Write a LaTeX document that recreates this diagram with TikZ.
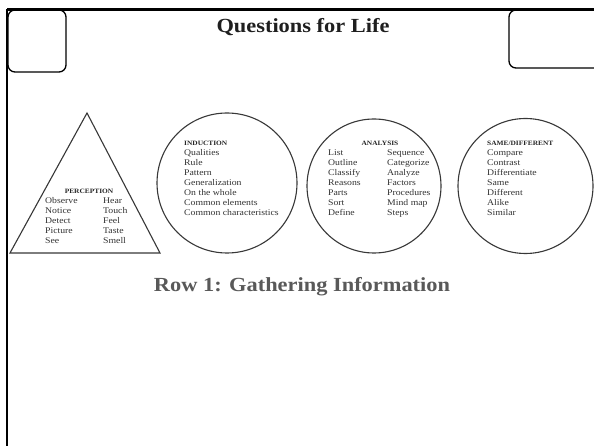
\documentclass[tikz,border=0pt]{standalone}
\usepackage{fontspec}
\setmainfont{Liberation Serif}
\newfontfamily\wideserif[FakeStretch=1.12]{Liberation Serif}
\begin{document}
\begin{tikzpicture}[x=1pt,y=-1pt,
  frameline/.style={line width=2.2pt,black},
  tabbox/.style={draw=black,line width=1.3pt,rounded corners=7pt},
  shapeline/.style={draw=black!78,line width=1.1pt},
  item/.style={anchor=base west,inner sep=0pt,text=black!80,
    font=\wideserif\fontsize{8.7}{10}\selectfont},
  headw/.style={anchor=base west,inner sep=0pt,text=black!85,
    font=\wideserif\bfseries\fontsize{6.6}{8}\selectfont},
  headc/.style={headw,anchor=base},
  bigtitle/.style={anchor=base,inner sep=0pt,text=black!88,
    font=\wideserif\bfseries\fontsize{20}{24}\selectfont},
  rowtitle/.style={bigtitle,text=black!65}]
\useasboundingbox (0,0) rectangle (594,446);
\fill[white] (0,0) rectangle (594,446);
\clip (0,0) rectangle (594,446);

% page frame and corner tabs
\draw[frameline] (7,9.5) -- (594,9.5);
\draw[frameline] (7,9.5) -- (7,446);
\draw[tabbox] (8,10) rectangle (66,72);
\draw[tabbox] (509,10) rectangle (630,68);

% titles
\node[bigtitle] (title) at (303,33) {Questions for Life};
\node[rowtitle] (row) at (302,291) {Row 1: Gathering Information};

% perception triangle
\draw[shapeline] (87,113) -- (160,253) -- (10,253) -- cycle;
\node[headc] (perc) at (89,194) {PERCEPTION};
\foreach \w [count=\i] in {Observe,Notice,Detect,Picture,See}
  \node[item] (pl\i) at (45,194+10*\i) {\w};
\foreach \w [count=\i] in {Hear,Touch,Feel,Taste,Smell}
  \node[item] (pr\i) at (103,194+10*\i) {\w};

% induction circle
\draw[shapeline] (227,183) circle (70);
\node[headw] (ind) at (184,146) {INDUCTION};
\foreach \w [count=\i] in {Qualities,Rule,Pattern,Generalization,On the whole,Common elements,Common characteristics}
  \node[item] (in\i) at (184,146+10*\i) {\w};

% analysis circle
\draw[shapeline] (374,186) circle (67);
\node[headc] (ana) at (380,146) {ANALYSIS};
\foreach \w [count=\i] in {List,Outline,Classify,Reasons,Parts,Sort,Define}
  \node[item] (al\i) at (328,146+10*\i) {\w};
\foreach \w [count=\i] in {Sequence,Categorize,Analyze,Factors,Procedures,Mind map,Steps}
  \node[item] (ar\i) at (387,146+10*\i) {\w};

% same/different circle
\draw[shapeline] (525.5,186) circle (67.5);
\node[headw] (sd) at (487,146) {SAME/DIFFERENT};
\foreach \w [count=\i] in {Compare,Contrast,Differentiate,Same,Different,Alike,Similar}
  \node[item] (s\i) at (487,146+10*\i) {\w};
\end{tikzpicture}
\end{document}
